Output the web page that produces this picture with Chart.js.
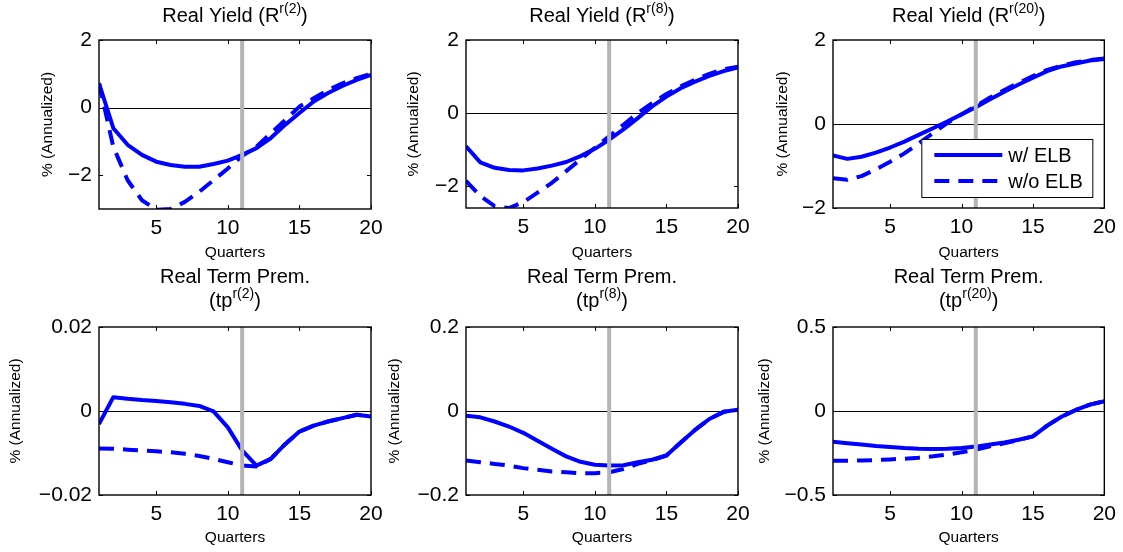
<!DOCTYPE html>
<html>
<head>
<meta charset="utf-8">
<script src="https://cdn.jsdelivr.net/npm/chart.js@4.4.0/dist/chart.umd.min.js"></script>
<style>
  html, body { margin: 0; padding: 0; background: #fff; }
  #wrap { position: relative; width: 1123px; height: 552px; }
  #wrap canvas { position: absolute; left: 0; top: 0; }
</style>
</head>
<body>
<div id="wrap"></div>
<script>
const FONT = "'Liberation Sans', Arial, Helvetica, sans-serif";

// x axis: quarters after the shock
const quarters = [1,2,3,4,5,6,7,8,9,10,11,12,13,14,15,16,17,18,19,20];
const xTicks = [5, 10, 15, 20];
const markerQuarter = 11;
const legendLabels = ['w/ ELB', 'w/o ELB'];

// real yields
const ry2Elb   = [0.72,-0.61,-1.10,-1.40,-1.60,-1.70,-1.75,-1.75,-1.67,-1.57,-1.40,-1.20,-0.90,-0.51,-0.16,0.18,0.43,0.64,0.82,0.97];
const ry2NoElb = [0.72,-1.16,-2.15,-2.74,-3.02,-3.00,-2.79,-2.49,-2.15,-1.80,-1.43,-1.16,-0.76,-0.37,0.03,0.28,0.52,0.72,0.87,1.00];
const ry8Elb   = [-0.91,-1.35,-1.50,-1.56,-1.57,-1.52,-1.44,-1.34,-1.18,-0.98,-0.73,-0.45,-0.14,0.18,0.45,0.68,0.86,1.02,1.15,1.25];
const ry8NoElb = [-1.86,-2.27,-2.55,-2.60,-2.44,-2.18,-1.91,-1.59,-1.27,-0.95,-0.64,-0.32,0.00,0.27,0.52,0.73,0.91,1.07,1.20,1.27];
const ry20Elb   = [-0.75,-0.83,-0.78,-0.68,-0.56,-0.42,-0.26,-0.10,0.06,0.23,0.40,0.59,0.77,0.94,1.10,1.26,1.37,1.44,1.51,1.55];
const ry20NoElb = [-1.29,-1.33,-1.24,-1.08,-0.90,-0.70,-0.46,-0.22,0.02,0.23,0.43,0.63,0.81,0.98,1.14,1.29,1.39,1.47,1.52,1.56];

// real term premia
const tp2Elb   = [-0.0031,0.0033,0.0029,0.0026,0.0024,0.0021,0.0017,0.0012,-0.0001,-0.0039,-0.0094,-0.0130,-0.0114,-0.0079,-0.0049,-0.0035,-0.0025,-0.0017,-0.0009,-0.0013];
const tp2NoElb = [-0.0089,-0.0090,-0.0092,-0.0094,-0.0096,-0.0098,-0.0102,-0.0107,-0.0114,-0.0122,-0.0130,-0.0132,-0.0114,-0.0079,-0.0049,-0.0035,-0.0025,-0.0017,-0.0009,-0.0013];
const tp8Elb   = [-0.011,-0.015,-0.025,-0.037,-0.052,-0.071,-0.090,-0.108,-0.121,-0.128,-0.130,-0.129,-0.122,-0.116,-0.106,-0.075,-0.045,-0.019,-0.002,0.003];
const tp8NoElb = [-0.118,-0.122,-0.126,-0.130,-0.136,-0.140,-0.144,-0.146,-0.148,-0.148,-0.146,-0.138,-0.126,-0.117,-0.106,-0.075,-0.045,-0.019,-0.002,0.003];
const tp20Elb   = [-0.183,-0.192,-0.200,-0.208,-0.214,-0.220,-0.224,-0.226,-0.224,-0.220,-0.212,-0.200,-0.187,-0.171,-0.151,-0.087,-0.034,0.006,0.038,0.058];
const tp20NoElb = [-0.296,-0.296,-0.294,-0.292,-0.288,-0.284,-0.278,-0.270,-0.260,-0.246,-0.230,-0.210,-0.192,-0.173,-0.151,-0.087,-0.034,0.006,0.038,0.058];

// y tick labels per panel
const ryTicks = [-2, 0, 2];
const tp2Ticks = [-0.02, 0, 0.02];
const tp8Ticks = [-0.2, 0, 0.2];
const tp20Ticks = [-0.5, 0, 0.5];

// panel layout: area = [left, top, right, bottom] in page pixels
const panels = [
  { area:[99,40,371,209],  yLabelX:48,  xLabelY:252.5, yMin:-3,    yMax:2,    ticks:ryTicks,   solid:ry2Elb,  dashed:ry2NoElb,  title:[['Real Yield (R','r(2)',')']] },
  { area:[466,40,738,208], yLabelX:414, xLabelY:252.5, yMin:-2.6,  yMax:2,    ticks:ryTicks,   solid:ry8Elb,  dashed:ry8NoElb,  title:[['Real Yield (R','r(8)',')']] },
  { area:[833,40,1105,208],yLabelX:783, xLabelY:252.5, yMin:-2,    yMax:2,    ticks:ryTicks,   solid:ry20Elb, dashed:ry20NoElb, title:[['Real Yield (R','r(20)',')']], legend:true },
  { area:[99,327,371,495], yLabelX:16,  xLabelY:537.5, yMin:-0.02, yMax:0.02, ticks:tp2Ticks,  solid:tp2Elb,  dashed:tp2NoElb,  title:[['Real Term Prem.'],['(tp','r(2)',')']] },
  { area:[466,327,738,495],yLabelX:395, xLabelY:537.5, yMin:-0.2,  yMax:0.2,  ticks:tp8Ticks,  solid:tp8Elb,  dashed:tp8NoElb,  title:[['Real Term Prem.'],['(tp','r(8)',')']] },
  { area:[833,327,1105,495],yLabelX:765,xLabelY:537.5, yMin:-0.5,  yMax:0.5,  ticks:tp20Ticks, solid:tp20Elb, dashed:tp20NoElb, title:[['Real Term Prem.'],['(tp','r(20)',')']] }
];

const BLUE = '#0000ff';
const DASH = [15, 9];
const AXIS_TITLE_SIZE = 15.5;
const HALF_LH = AXIS_TITLE_SIZE * 1.2 / 2;

function fmtTick(v){
  return v < 0 ? '\u2212' + String(Math.abs(v)) : String(v);
}

// draws zero line, grey marker, axes box, inward ticks, titles, legend
const decor = {
  id: 'decor',
  beforeDatasetsDraw(chart){
    const {ctx, chartArea:a, scales:{y}} = chart;
    const y0 = Math.round(y.getPixelForValue(0)) + 0.5;
    ctx.save();
    ctx.strokeStyle = '#000'; ctx.lineWidth = 1;
    ctx.beginPath(); ctx.moveTo(a.left, y0); ctx.lineTo(a.right, y0); ctx.stroke();
    ctx.restore();
  },
  afterDatasetsDraw(chart, args, opts){
    const {ctx, chartArea:a, scales:{x, y}} = chart;
    ctx.save();
    // grey vertical marker
    const xm = x.getPixelForValue(markerQuarter);
    ctx.strokeStyle = '#b4b4b4'; ctx.lineWidth = 4;
    ctx.beginPath(); ctx.moveTo(xm, a.top); ctx.lineTo(xm, a.bottom); ctx.stroke();

    // inward ticks on all sides
    ctx.strokeStyle = '#000'; ctx.lineWidth = 1;
    ctx.beginPath();
    x.ticks.forEach(t => {
      const px = Math.round(x.getPixelForValue(t.value)) + 0.5;
      ctx.moveTo(px, a.bottom); ctx.lineTo(px, a.bottom - 4);
      ctx.moveTo(px, a.top); ctx.lineTo(px, a.top + 4);
    });
    y.ticks.forEach(t => {
      const py = Math.round(y.getPixelForValue(t.value)) + 0.5;
      ctx.moveTo(a.left, py); ctx.lineTo(a.left + 4, py);
      ctx.moveTo(a.right, py); ctx.lineTo(a.right - 4, py);
    });
    ctx.stroke();
    // box
    ctx.lineWidth = 1.4;
    ctx.strokeRect(a.left, a.top, a.right - a.left, a.bottom - a.top);

    // title with superscript
    const cx = (a.left + a.right) / 2;
    const lines = opts.title || [];
    const firstBase = lines.length > 1 ? a.top - 44.5 : a.top - 18.5;
    ctx.fillStyle = '#000';
    ctx.textBaseline = 'alphabetic';
    ctx.textAlign = 'left';
    lines.forEach((segs, li) => {
      const base = firstBase + li * 24;
      const fonts = segs.map((s, i) => (i === 1 ? '14px ' : '20px ') + FONT);
      let total = 0;
      const widths = segs.map((s, i) => { ctx.font = fonts[i]; const w = ctx.measureText(s).width; total += w; return w; });
      let xx = cx - total / 2;
      segs.forEach((s, i) => {
        ctx.font = fonts[i];
        ctx.fillText(s, xx, i === 1 ? base - 8.5 : base);
        xx += widths[i];
      });
    });

    // legend inside the last top panel
    if (opts.legend) {
      const lx = a.right - 183, ly = a.top + 99, lw = 171, lh = 58;
      ctx.fillStyle = '#fff';
      ctx.fillRect(lx, ly, lw, lh);
      ctx.strokeStyle = '#000'; ctx.lineWidth = 1;
      ctx.strokeRect(lx + 0.5, ly + 0.5, lw, lh);
      chart.data.datasets.forEach((ds, i) => {
        const yy = ly + 16 + i * 26;
        ctx.strokeStyle = BLUE; ctx.lineWidth = 4;
        ctx.setLineDash(ds.borderDash || []);
        ctx.beginPath(); ctx.moveTo(lx + 13, yy); ctx.lineTo(lx + 81, yy); ctx.stroke();
        ctx.setLineDash([]);
        ctx.fillStyle = '#000';
        ctx.font = '20px ' + FONT;
        ctx.textBaseline = 'middle';
        ctx.fillText(ds.label, lx + 87, yy + 1);
      });
    }
    ctx.restore();
  }
};

const wrap = document.getElementById('wrap');

panels.forEach(p => {
  const [L, T, R, B] = p.area;
  const canvas = document.createElement('canvas');
  canvas.width = 1123; canvas.height = 552;
  wrap.appendChild(canvas);
  const yAxisLeft = p.yLabelX - HALF_LH;
  const xAxisBottom = p.xLabelY + HALF_LH;

  new Chart(canvas, {
    type: 'line',
    data: {
      datasets: [
        { label: legendLabels[0], data: quarters.map((q, i) => ({x: q, y: p.solid[i]})), borderColor: BLUE, borderWidth: 4, pointRadius: 0, tension: 0, borderJoinStyle: 'round', order: 1 },
        { label: legendLabels[1], data: quarters.map((q, i) => ({x: q, y: p.dashed[i]})), borderColor: BLUE, borderWidth: 4, pointRadius: 0, tension: 0, borderDash: DASH, borderJoinStyle: 'round', order: 0 }
      ]
    },
    options: {
      responsive: false,
      animation: false,
      events: [],
      layout: { padding: { left: yAxisLeft, top: T, right: 1123 - R, bottom: 552 - xAxisBottom } },
      plugins: {
        legend: { display: false },
        tooltip: { enabled: false },
        decor: { title: p.title, legend: !!p.legend }
      },
      scales: {
        x: {
          type: 'linear', min: 1, max: 20,
          afterBuildTicks: s => { s.ticks = xTicks.map(v => ({value: v})); },
          afterFit: s => { s.height = xAxisBottom - B; },
          grid: { display: false, drawTicks: false },
          border: { display: false },
          ticks: { font: { family: FONT, size: 21 }, color: '#000', padding: 7, maxRotation: 0, autoSkip: false },
          title: { display: true, text: 'Quarters', color: '#000', padding: 0, font: { family: FONT, size: AXIS_TITLE_SIZE, lineHeight: 1.2 } }
        },
        y: {
          type: 'linear', min: p.yMin, max: p.yMax,
          afterBuildTicks: s => { s.ticks = p.ticks.map(v => ({value: v})); },
          afterFit: s => { s.width = L - yAxisLeft; },
          grid: { display: false, drawTicks: false },
          border: { display: false },
          ticks: { font: { family: FONT, size: 21 }, color: '#000', padding: 7, callback: v => fmtTick(v) },
          title: { display: true, text: '% (Annualized)', color: '#000', padding: 0, font: { family: FONT, size: AXIS_TITLE_SIZE, lineHeight: 1.2 } }
        }
      }
    },
    plugins: [decor]
  });
});
</script>
</body>
</html>
